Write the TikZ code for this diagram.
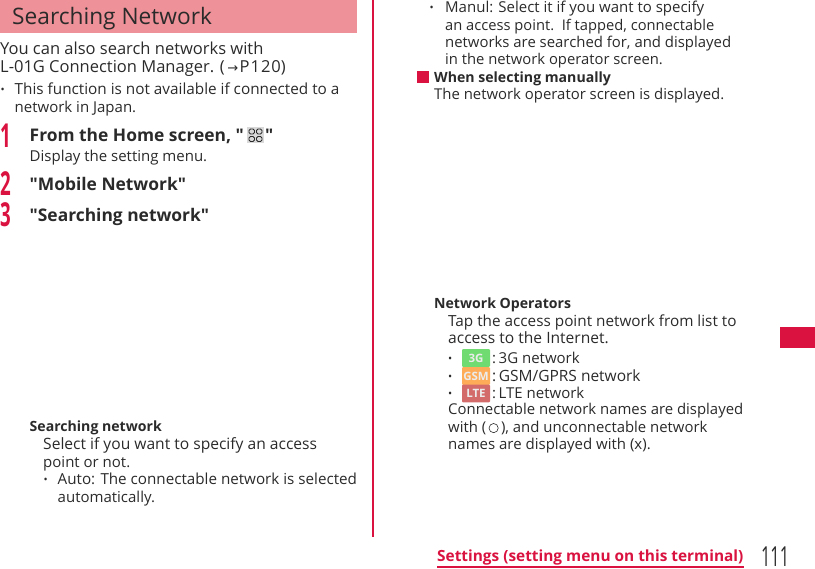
\documentclass[tikz,border=0pt]{standalone}
\usepackage{fontspec}
\newfontfamily\bodyfont{Open Sans}
\newfontfamily\arrowfont{DejaVu Sans}
\definecolor{pagered}{HTML}{D9123F}
\definecolor{headred}{HTML}{EE9198}
\definecolor{inktxt}{HTML}{2A2A2A}
\tikzset{
 bodytxt/.style={anchor=base west, inner sep=0pt, text=inktxt, font=\bodyfont\fontsize{15}{16}\selectfont},
 subhead/.style={anchor=base west, inner sep=0pt, text=inktxt, font=\bodyfont\fontsize{14.1}{16}\selectfont\bfseries},
 stephead/.style={anchor=base west, inner sep=0pt, text=inktxt, font=\bodyfont\fontsize{17.4}{20}\selectfont\bfseries},
 stepnum/.style={anchor=base west, inner sep=0pt, text=pagered, font=\bodyfont\fontsize{22}{24}\selectfont\bfseries, xscale=0.85, yscale=1.5, transform shape},
 dotmark/.style={anchor=base west, inner sep=0pt, yshift=1.5pt, text=inktxt, font=\bodyfont\fontsize{11}{12}\selectfont},
 neticon/.style={minimum width=28pt, minimum height=17.6pt, inner sep=0pt, rounded corners=1pt, text=white!85!gray, font=\bodyfont\fontsize{11.5}{12}\selectfont\bfseries},
}
\begin{document}
\begin{tikzpicture}[x=1pt,y=-1pt]
\useasboundingbox (0,0) rectangle (815,569);
% header, rule and tab
\fill[headred] (0,0) rectangle (357,33);
\node[anchor=base west, inner sep=0pt, text=inktxt, font=\bodyfont\fontsize{22.7}{24}\selectfont] (title) at (12,25) {Searching Network};
\fill[pagered] (372.2,0) rectangle (373.6,537);
\fill[pagered] (780,327) rectangle (815,348);
% left column
\node[bodytxt, font=\bodyfont\fontsize{16.5}{18}\selectfont] (introa) at (0,54.5) {You can also search networks with};
\node[bodytxt, font=\bodyfont\fontsize{16.5}{18}\selectfont] (introb) at (0,72.5) {L-01G Connection Manager. (\hspace{2.5pt}{\arrowfont\fontsize{13}{14}\selectfont →}\hspace{1.5pt}P\hspace{1pt}1\hspace{1pt}2\hspace{1pt}0)};
\node[dotmark] (dota) at (0.5,95) {•};
\node[bodytxt, font=\bodyfont\fontsize{15.3}{16}\selectfont] (notea) at (14.5,95) {This function is not available if connected to a};
\node[bodytxt] (noteb) at (14.5,113) {network in Japan.};
\foreach \n/\y in {1/148, 2/196, 3/227} {
 \node[stepnum] (num\n) at (0,\y) {\n};
}
\node[stephead] (stepa) at (29.5,142) {From the Home screen, "};
\node[stephead] (stepaend) at (265,142) {"};
\fill[gray!30] (247,127) rectangle (264,143);
\foreach \x in {249,256.5} {
 \foreach \y in {129,136.5} {
  \draw[inktxt, line width=0.8pt, rounded corners=1.5pt] (\x,\y) rectangle ++(5.5,5);
 }
}
\node[bodytxt] (stepasub) at (29.5,162) {Display the setting menu.};
\node[stephead] (stepb) at (29.5,191) {"Mobile Network"};
\node[stephead] (stepc) at (29.5,221.5) {"Searching network"};
\node[subhead] (searchhd) at (29.5,432) {Searching network};
\node[bodytxt, font=\bodyfont\fontsize{15.6}{16}\selectfont] (searcha) at (43,450) {Select if you want to specify an access};
\node[bodytxt] (searchb) at (43,468) {point or not.};
\node[dotmark] (dotb) at (43.5,485) {•};
\node[bodytxt, font=\bodyfont\fontsize{15.2}{16}\selectfont] (autoa) at (57.5,485) {Auto: The connectable network is selected};
\node[bodytxt] (autob) at (57.5,503) {automatically.};
% right column
\node[dotmark] (dotc) at (429.5,13) {•};
\node[bodytxt] (manula) at (445,13) {Manul: Select it if you want to specify};
\node[bodytxt, font=\bodyfont\fontsize{14.7}{16}\selectfont] (manulb) at (445,30.5) {an access point.\ \ If tapped, connectable};
\node[bodytxt, font=\bodyfont\fontsize{14.9}{16}\selectfont] (manulc) at (445,48) {networks are searched for, and displayed};
\node[bodytxt, font=\bodyfont\fontsize{14.8}{16}\selectfont] (manuld) at (445,65) {in the network operator screen.};
\fill[pagered] (417,71) rectangle (429,83);
\node[subhead] (manualhd) at (434,83) {When selecting manually};
\node[bodytxt, font=\bodyfont\fontsize{14.9}{16}\selectfont] (manualtx) at (434,100) {The network operator screen is displayed.};
\node[subhead] (operhd) at (434,309) {Network Operators};
\node[bodytxt, font=\bodyfont\fontsize{15.3}{16}\selectfont] (opera) at (448,327) {Tap the access point network from list to};
\node[bodytxt, font=\bodyfont\fontsize{15.6}{16}\selectfont] (operb) at (448,344) {access to the Internet.};
\foreach \nm/\y in {x/364, y/382, z/399} {
 \node[dotmark] (dot\nm) at (448,\y) {•};
}
\node[neticon, fill=green!60!gray!70] (icona) at (476,358) {3G};
\node[neticon, fill=orange!65!white] (iconb) at (476,376) {GSM};
\node[neticon, fill=red!55!gray!75] (iconc) at (476,393.5) {LTE};
\node[bodytxt] (neta) at (492,364) {:\hspace{2.5pt}3G network};
\node[bodytxt, font=\bodyfont\fontsize{15.5}{16}\selectfont] (netb) at (492,382) {:\hspace{2.5pt}GSM/GPRS network};
\node[bodytxt] (netc) at (492,399) {:\hspace{2.5pt}LTE network};
\node[bodytxt, font=\bodyfont\fontsize{14.9}{16}\selectfont] (conna) at (448,415) {Connectable network names are displayed};
\node[bodytxt, font=\bodyfont\fontsize{14.9}{16}\selectfont] (connb) at (448,433) {with (\,\tikz\draw[inktxt,line width=0.6pt] (0,0) circle (4.6pt);\,), and unconnectable network};
\node[bodytxt] (connc) at (448,450) {names are displayed with (x).};
% footer
\node[anchor=base west, inner sep=0pt, text=pagered, font=\bodyfont\fontsize{15.4}{18}\selectfont\bfseries] (foot) at (437,561.5) {Settings (setting menu on this terminal)};
\fill[pagered] (437,566) rectangle (744,568);
\node[anchor=base west, inner sep=0pt, text=inktxt, font=\bodyfont\fontsize{24}{26}\selectfont, xscale=0.68, yscale=1.15, transform shape] (pageno) at (761,566.5) {111};
\end{tikzpicture}
\end{document}
